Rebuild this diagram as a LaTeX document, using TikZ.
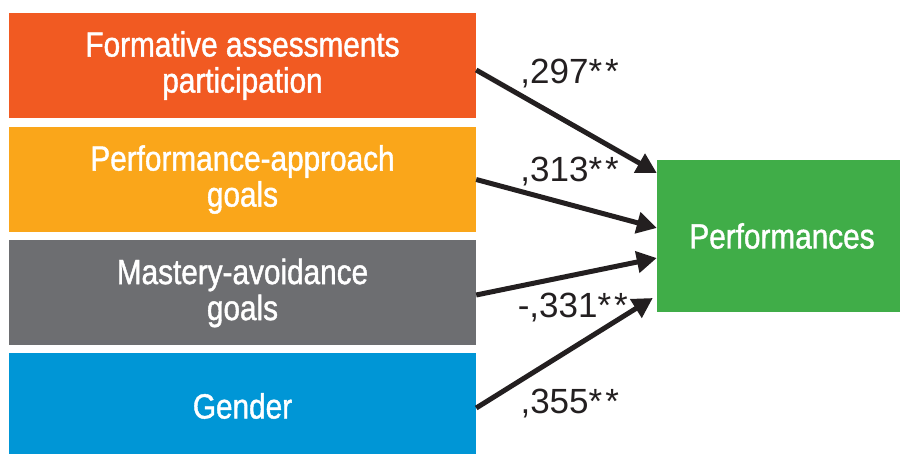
\documentclass[tikz,border=0pt]{standalone}
\usepackage{fontspec}
\setmainfont{Liberation Sans}
\newfontfamily\boxfont{Liberation Sans}[FakeStretch=0.85,FakeBold=1.2]
\usetikzlibrary{arrows.meta}
\tikzset{>={Triangle[length=20pt,width=21pt]}}
\definecolor{cfap}{HTML}{F15A22}
\definecolor{cpag}{HTML}{FAA61A}
\definecolor{cmag}{HTML}{6D6E71}
\definecolor{cgender}{HTML}{0096D6}
\definecolor{cperf}{HTML}{40AD48}
\definecolor{ink}{HTML}{231F20}
\newcommand{\stars}{*\kern3pt*}

\begin{document}
\begin{tikzpicture}[x=1pt,y=-1pt,
    var/.style={fill=#1,text=white,minimum width=467pt,minimum height=105pt,
      inner sep=0pt,align=center,font=\boxfont\fontsize{35}{36}\selectfont},
    effect/.style={->,line width=5pt,ink},
    coef/.style={text=ink,inner sep=2pt,font=\fontsize{35}{40}\selectfont}]
  \clip (0,0) rectangle (900,454);
  % predictors
  \node[var=cfap]    (fap)    at (242.5,65.5)  {Formative assessments\\participation};
  \node[var=cpag]    (pag)    at (242.5,179.5) {Performance-approach\\goals};
  \node[var=cmag]    (mag)    at (242.5,293)   {Mastery-avoidance\\goals};
  \node[var=cgender] (gender) at (242.5,406)   {Gender};
  % outcome
  \node[var=cperf,minimum width=250pt,minimum height=152pt] (perf) at (782,236) {Performances};
  % paths
  \draw[effect] ([yshift=-4.5pt]fap.east) -- ([yshift=63pt]perf.west)
    node[coef,pos=0.22,anchor=south west] {,297\stars};
  \draw[effect] (pag.east) -- ([yshift=8pt]perf.west)
    node[coef,pos=0.22,anchor=south west] {,313\stars};
  \draw[effect] ([yshift=-2pt]mag.east) -- ([yshift=-22pt]perf.west)
    node[coef,pos=0.2,anchor=north west,inner sep=3pt] {-,331\stars};
  \draw[effect] ([yshift=-2pt]gender.east) -- ([xshift=-4pt,yshift=-62pt]perf.west)
    node[coef,pos=0.22,anchor=north west,inner sep=3pt] {,355\stars};
\end{tikzpicture}
\end{document}
